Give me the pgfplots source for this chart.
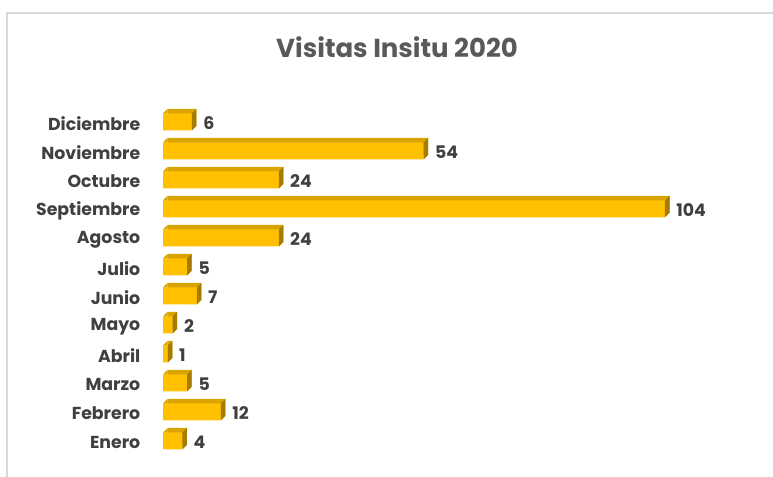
\documentclass[border=0pt]{standalone}
\usepackage{pgfplots}
\usepackage{pgfplotstable}
\pgfplotsset{compat=1.18}
\usepackage{fontspec}
\setmainfont{Poppins}
\definecolor{gold}{HTML}{FFC000}
\definecolor{goldtop}{HTML}{D9A300}
\definecolor{goldside}{HTML}{A67C00}
\definecolor{lblgray}{HTML}{404040}
\definecolor{ttlgray}{HTML}{595959}
\definecolor{framegray}{HTML}{D9D9D9}

\pgfplotstableread{
idx label val
0 Enero 4
1 Febrero 12
2 Marzo 5
3 Abril 1
4 Mayo 2
5 Junio 7
6 Julio 5
7 Agosto 24
8 Septiembre 104
9 Octubre 24
10 Noviembre 54
11 Diciembre 6
}\data

% depth d = 3.4pt, half bar = 6.375pt
\pgfdeclareplotmark{rightface}{%
  \pgfpathmoveto{\pgfpoint{0pt}{-6.375pt}}%
  \pgfpathlineto{\pgfpoint{3.4pt}{-2.975pt}}%
  \pgfpathlineto{\pgfpoint{3.4pt}{9.775pt}}%
  \pgfpathlineto{\pgfpoint{0pt}{6.375pt}}%
  \pgfpathclose\pgfusepathqfill}
\pgfdeclareplotmark{lefttri}{%
  \pgfpathmoveto{\pgfpoint{0pt}{6.375pt}}%
  \pgfpathlineto{\pgfpoint{3.4pt}{9.775pt}}%
  \pgfpathlineto{\pgfpoint{3.4pt}{6.375pt}}%
  \pgfpathclose\pgfusepathqfill}

\begin{document}
\begin{tikzpicture}
\useasboundingbox (0,0) rectangle (579.75pt,357.75pt);
\draw[framegray, line width=0.8pt] (5.25pt,0pt) -- (5.25pt,348pt) -- (580pt,348pt);
\node[text=ttlgray, font=\fontsize{19.5}{23}\selectfont\bfseries] at (297.75pt,322.5pt) {Visitas Insitu 2020};
\begin{axis}[
  at={(122.25pt,16.125pt)}, anchor=south west,
  scale only axis,
  width=434.4pt, height=261pt,
  xmin=0, xmax=120, ymin=-0.5, ymax=11.5,
  axis x line=none,
  axis y line*=left,
  y axis line style={draw=none},
  major tick length=0pt,
  ytick={0,...,11},
  yticklabels from table={\data}{label},
  yticklabel style={font=\fontsize{13}{15}\selectfont\bfseries, text=lblgray, xshift=-13.5pt, yshift=-1.2pt},
  clip=false,
  /pgf/number format/assume math mode=true,
]
\addplot[xbar, bar width=12.75pt, bar shift=0pt, fill=goldtop, draw=none, xshift=3.4pt, yshift=3.4pt]
  table[x=val, y=idx] {\data};
\addplot[only marks, mark=lefttri, goldtop] table[x expr=0, y=idx] {\data};
\addplot[only marks, mark=rightface, goldside] table[x=val, y=idx] {\data};
\addplot[xbar, bar width=12.75pt, bar shift=0pt, fill=gold, draw=none,
  nodes near coords,
  nodes near coords style={anchor=west, xshift=5pt, yshift=-0.6pt, text=lblgray, font=\fontsize{13}{15}\selectfont\bfseries}]
  table[x=val, y=idx] {\data};
\end{axis}
\end{tikzpicture}
\end{document}
